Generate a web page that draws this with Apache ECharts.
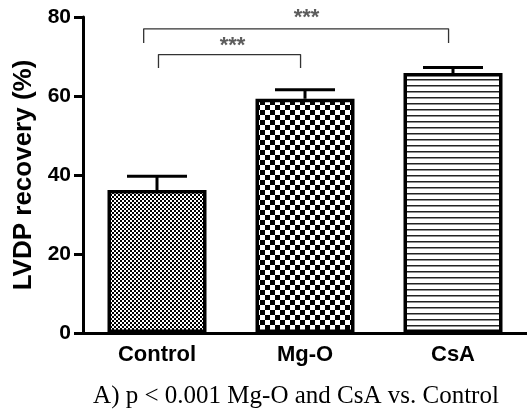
<!DOCTYPE html>
<html>
<head>
<meta charset="utf-8" />
<script src="https://cdn.jsdelivr.net/npm/echarts@6/dist/echarts.min.js"></script>
<style>
  html, body { margin: 0; padding: 0; background: #fff; }
  #chart { width: 527px; height: 410px; }
</style>
</head>
<body>
<div id="chart"></div>
<script>
// categories and values
const groups = ["Control", "Mg-O", "CsA"];
const means = [36.2, 59.3, 65.8];
const errTop = [39.7, 61.6, 67.2];
const yTicks = [0, 20, 40, 60, 80];

// significance brackets, x in category index units
const bracketWide = [[-0.09, 73.4], [-0.09, 77.0], [1.97, 77.0], [1.97, 73.4]];
const bracketNarrow = [[0.01, 67.1], [0.01, 70.5], [0.97, 70.5], [0.97, 67.1]];
const starMarks = [[1.01, 79.8], [0.51, 72.6]];

const caption = "A) p < 0.001 Mg-O and CsA vs. Control";

// fill patterns
function makeTile(size, draw) {
  const c = document.createElement("canvas");
  c.width = size;
  c.height = size;
  const ctx = c.getContext("2d");
  ctx.fillStyle = "#fff";
  ctx.fillRect(0, 0, size, size);
  ctx.fillStyle = "#000";
  draw(ctx);
  return { image: c, repeat: "repeat" };
}
const fineChecker = makeTile(4, (ctx) => {
  ctx.fillRect(0, 0, 2, 2);
  ctx.fillRect(2, 2, 2, 2);
});
const bigChecker = makeTile(10, (ctx) => {
  ctx.fillRect(0, 0, 5, 5);
  ctx.fillRect(5, 5, 5, 5);
});
const stripes = makeTile(6, (ctx) => {
  ctx.fillStyle = "#222";
  ctx.fillRect(0, 1, 6, 1.5);
});
const fills = [fineChecker, bigChecker, stripes];

const chart = echarts.init(document.getElementById("chart"), null, { renderer: "canvas" });

const option = {
  animation: false,
  backgroundColor: "#fff",
  title: {
    text: caption,
    left: 291,
    top: 379,
    textAlign: "center",
    textStyle: {
      fontFamily: "Liberation Serif",
      fontWeight: "normal",
      fontSize: 25,
      color: "#000",
    },
  },
  grid: { left: 83, right: -3, top: 17, bottom: 77 },
  xAxis: [
    {
      type: "category",
      data: groups,
      axisLine: { onZero: false, lineStyle: { color: "#000", width: 3 } },
      axisTick: { alignWithLabel: true, length: 8, lineStyle: { width: 3, color: "#000" } },
      axisLabel: {
        margin: 11,
        color: "#000",
        fontFamily: "Liberation Sans",
        fontWeight: "bold",
        fontSize: 22,
      },
    },
    {
      // hidden helper axis for the brackets
      type: "value",
      min: -0.5,
      max: 2.5,
      show: false,
    },
  ],
  yAxis: {
    type: "value",
    min: yTicks[0],
    max: yTicks[yTicks.length - 1],
    interval: 20,
    name: "LVDP recovery (%)",
    nameLocation: "middle",
    nameGap: 43,
    nameTextStyle: {
      fontFamily: "Liberation Sans",
      fontWeight: "bold",
      fontSize: 26,
      color: "#000",
    },
    splitLine: { show: false },
    axisLine: { show: true, onZero: false, lineStyle: { color: "#000", width: 3 } },
    axisTick: { show: true, length: 9, lineStyle: { width: 3, color: "#000" } },
    axisLabel: {
      margin: 12,
      color: "#000",
      fontFamily: "Liberation Sans",
      fontWeight: "bold",
      fontSize: 21,
    },
  },
  series: [
    {
      type: "custom",
      z: 1,
      data: groups.map((g, i) => [i, means[i], errTop[i]]),
      renderItem: (params, api) => {
        const base = api.coord([api.value(0), api.value(1)]);
        const top = api.coord([api.value(0), api.value(2)]);
        const half = 30;
        const st = { stroke: "#000", lineWidth: 3 };
        return {
          type: "group",
          children: [
            { type: "line", shape: { x1: base[0], y1: base[1], x2: top[0], y2: top[1] }, style: st },
            { type: "line", shape: { x1: top[0] - half, y1: top[1], x2: top[0] + half, y2: top[1] }, style: st },
          ],
        };
      },
    },
    {
      type: "bar",
      z: 2,
      barWidth: 99,
      data: means.map((v, i) => ({
        value: v,
        itemStyle: { color: fills[i], borderColor: "#000", borderWidth: 3.5 },
      })),
    },
    {
      type: "line",
      xAxisIndex: 1,
      data: bracketWide,
      symbol: "none",
      clip: false,
      lineStyle: { color: "#333", width: 1.3 },
    },
    {
      type: "line",
      xAxisIndex: 1,
      data: bracketNarrow,
      symbol: "none",
      clip: false,
      lineStyle: { color: "#333", width: 1.3 },
    },
    {
      type: "scatter",
      xAxisIndex: 1,
      data: starMarks,
      symbolSize: 0,
      clip: false,
      label: {
        show: true,
        position: "inside",
        formatter: "***",
        color: "#333",
        fontFamily: "Liberation Sans",
        fontWeight: "bold",
        fontSize: 22,
      },
    },
  ],
};

chart.setOption(option);
</script>
</body>
</html>
